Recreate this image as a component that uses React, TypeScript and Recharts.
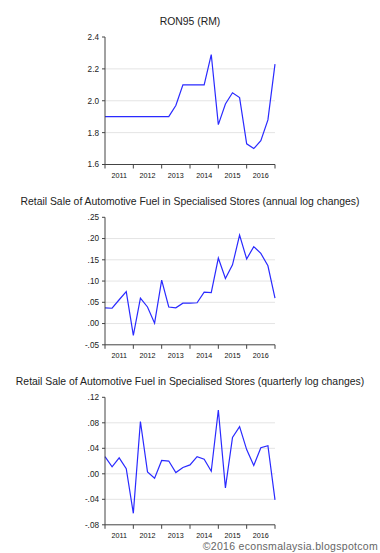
import React from 'react';
import { LineChart, Line, XAxis, YAxis, ReferenceLine } from 'recharts';

// quarters, 25 observations, index 0 = first tick of 2011
const quarterIdx = [0, 1, 2, 3, 4, 5, 6, 7, 8, 9, 10, 11, 12, 13, 14, 15, 16, 17, 18, 19, 20, 21, 22, 23, 24];
const yearLabels = ['2011', '2012', '2013', '2014', '2015', '2016'];
const yearTicks = [0, 4, 8, 12, 16, 20, 24];

const ron95 = [1.9, 1.9, 1.9, 1.9, 1.9, 1.9, 1.9, 1.9, 1.9, 1.9, 1.97, 2.1, 2.1, 2.1, 2.1, 2.29, 1.85, 1.98, 2.05, 2.02, 1.73, 1.7, 1.75, 1.88, 2.23];
const annualLog = [0.037, 0.036, 0.056, 0.075, -0.028, 0.06, 0.039, 0.001, 0.102, 0.039, 0.037, 0.048, 0.048, 0.049, 0.074, 0.073, 0.154, 0.106, 0.138, 0.208, 0.152, 0.181, 0.165, 0.136, 0.06];
const quarterlyLog = [0.027, 0.011, 0.025, 0.008, -0.062, 0.082, 0.003, -0.007, 0.021, 0.02, 0.002, 0.01, 0.014, 0.027, 0.023, 0.004, 0.1, -0.022, 0.057, 0.074, 0.038, 0.013, 0.041, 0.044, -0.041];

const ronTicks = [1.6, 1.8, 2.0, 2.2, 2.4];
const annualTicks = [-0.05, 0, 0.05, 0.1, 0.15, 0.2, 0.25];
const quarterlyTicks = [-0.08, -0.04, 0, 0.04, 0.08, 0.12];

const FONT = '"Liberation Sans", Arial, sans-serif';
const LINE = '#2a2aff';
const AXIS = '#444';
const GRID = '#e4e4e4';
const STEP = 170 / 24; // px per quarter, plot is 170 wide

const fmtDec = (v: number) => {
  const s = v.toFixed(2);
  return s.replace(/^(-?)0\./, '$1.');
};

const YearTick = (props: any) => {
  const { x, y, payload } = props;
  const k = yearTicks.indexOf(payload.value);
  if (k < 0 || k >= yearLabels.length) return null;
  return (
    <text x={x + STEP * 2} y={y + 7} textAnchor="middle" fontSize={7.2} fill="#111" fontFamily={FONT}>
      {yearLabels[k]}
    </text>
  );
};

interface PanelProps {
  title: string;
  top: number;
  height: number;
  values: number[];
  ticks: number[];
  fmt: (v: number) => string;
  plotTop: number;
  titleY: number;
}

const Panel: React.FC<PanelProps> = ({ title, top, height, values, ticks, fmt, plotTop, titleY }) => {
  const data = quarterIdx.map((i) => ({ i, v: values[i] }));
  const plotH = 127.5;
  const xAxisH = 16;
  const grid = ticks.slice(1, -1);
  return (
    <div style={{ position: 'absolute', left: 0, top, width: 380, height }}>
      <div
        style={{
          position: 'absolute',
          left: 0,
          width: 380,
          top: titleY - 6,
          textAlign: 'center',
          fontFamily: FONT,
          fontSize: 10.4,
          color: '#222',
          lineHeight: '12px',
          whiteSpace: 'nowrap',
        }}
      >
        {title}
      </div>
      <LineChart
        width={380}
        height={height}
        data={data}
        margin={{ top: plotTop, right: 105, left: 65, bottom: height - plotTop - plotH - xAxisH }}
      >
        {grid.map((g) => (
          <ReferenceLine key={g} y={g} stroke={GRID} strokeWidth={1} />
        ))}
        <XAxis
          dataKey="i"
          type="number"
          domain={[0, 24]}
          ticks={yearTicks}
          tick={<YearTick />}
          tickSize={4}
          height={xAxisH}
          stroke={AXIS}
          interval={0}
        />
        <YAxis
          type="number"
          domain={[ticks[0], ticks[ticks.length - 1]]}
          ticks={ticks}
          tickFormatter={fmt}
          width={40}
          tickSize={3}
          tickMargin={3}
          stroke={AXIS}
          interval={0}
          tick={{ fontSize: 8.2, fill: '#222', fontFamily: FONT }}
        />
        <Line type="linear" dataKey="v" stroke={LINE} strokeWidth={1.2} dot={false} isAnimationActive={false} />
      </LineChart>
    </div>
  );
};

export default function App() {
  return (
    <div style={{ position: 'absolute', left: 0, top: 0, width: 380, height: 553, background: '#fff', overflow: 'hidden' }}>
      <Panel title="RON95 (RM)" top={0} height={190} values={ron95} ticks={ronTicks} fmt={(v) => v.toFixed(1)} plotTop={37} titleY={22} />
      <Panel
        title="Retail Sale of Automotive Fuel in Specialised Stores (annual log changes)"
        top={190}
        height={180}
        values={annualLog}
        ticks={annualTicks}
        fmt={fmtDec}
        plotTop={27.3}
        titleY={12}
      />
      <Panel
        title="Retail Sale of Automotive Fuel in Specialised Stores (quarterly log changes)"
        top={370}
        height={183}
        values={quarterlyLog}
        ticks={quarterlyTicks}
        fmt={fmtDec}
        plotTop={27.3}
        titleY={12.3}
      />
      <div
        style={{
          position: 'absolute',
          right: 2,
          top: 539,
          fontFamily: FONT,
          fontSize: 10.5,
          letterSpacing: 0.3,
          color: '#666',
          lineHeight: '14px',
        }}
      >
        ©2016 econsmalaysia.blogspotcom
      </div>
    </div>
  );
}
